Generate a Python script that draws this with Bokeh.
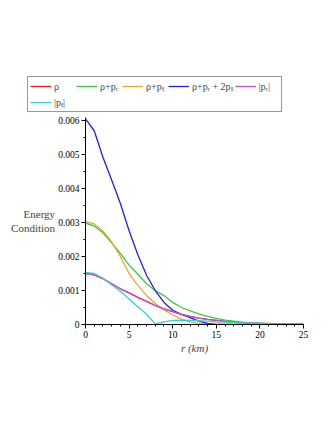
from bokeh.plotting import figure
from bokeh.layouts import column
from bokeh.models import Range1d, FixedTicker, NumeralTickFormatter, Legend, LegendItem
from bokeh.embed import file_html
from bokeh.resources import INLINE

r_km = list(range(0, 26))

rho = [0.00150, 0.00146, 0.00135, 0.00120, 0.00105, 0.00093, 0.00080, 0.00068, 0.00056, 0.00046,
       0.00038, 0.00030, 0.00024, 0.00019, 0.00015, 0.00012, 0.00009, 0.00007, 0.00005, 0.00004,
       0.00003, 0.00002, 0.00002, 0.00001, 0.00001, 0.00001]
rho_pr = [0.00298, 0.00290, 0.00270, 0.00240, 0.00209, 0.00175, 0.00148, 0.00120, 0.00100, 0.00085,
          0.00065, 0.00050, 0.00040, 0.00031, 0.00024, 0.00018, 0.00013, 0.00010, 0.00007, 0.00005,
          0.00004, 0.00003, 0.00002, 0.00002, 0.00001, 0.00001]
rho_pt = [0.00303, 0.00296, 0.00275, 0.00243, 0.00200, 0.00150, 0.00115, 0.00085, 0.00062, 0.00043,
          0.00028, 0.00016, 0.00008, 0.00003, 0.00001, 0.0, 0.0, 0.0, 0.0, 0.0,
          0.0, 0.0, 0.0, 0.0, 0.0, 0.0]
rho_pr_2pt = [0.00605, 0.00570, 0.00492, 0.00425, 0.00356, 0.00276, 0.00205, 0.00145, 0.00100, 0.00065,
              0.00042, 0.00030, 0.00020, 0.00010, 0.00003, 0.0, 0.0, 0.0, 0.0, 0.0,
              0.0, 0.0, 0.0, 0.0, 0.0, 0.0]
abs_pr = [0.00150, 0.00146, 0.00135, 0.00120, 0.00105, 0.00093, 0.00080, 0.00068, 0.00056, 0.00046,
          0.00038, 0.00030, 0.00024, 0.00019, 0.00015, 0.00012, 0.00009, 0.00007, 0.00005, 0.00004,
          0.00003, 0.00002, 0.00002, 0.00001, 0.00001, 0.00001]
abs_pt = [0.00153, 0.00150, 0.00136, 0.00117, 0.00098, 0.00075, 0.00052, 0.00030, 0.00002, 0.00008,
          0.00012, 0.00013, 0.00012, 0.00011, 0.00010, 0.00008, 0.00007, 0.00006, 0.00005, 0.00004,
          0.00003, 0.00002, 0.00001, 0.00001, 0.00001, 0.00001]

series_labels = ["ρ", "ρ+pᵣ", "ρ+pₜ", "ρ+pᵣ + 2pₜ", "|pᵣ|", "|pₜ|"]
series_colors = ["#E02020", "#40C840", "#E8A830", "#2020E8", "#C850C8", "#30D0D0"]
series_values = [rho, rho_pr, rho_pt, rho_pr_2pt, abs_pr, abs_pt]

x_ticks = [0, 5, 10, 15, 20, 25]
x_minor = list(range(0, 26))
y_ticks = [0.0, 0.001, 0.002, 0.003, 0.004, 0.005, 0.006]
y_minor = [0.0005 * i for i in range(0, 13)]

FONT = "Liberation Serif"
W = 320

# ---- main plot ----
p = figure(width=W, height=306, output_backend="svg", toolbar_location=None,
           x_range=Range1d(0, 25), y_range=Range1d(0, 0.00609),
           min_border_left=85, min_border_right=W - 303, min_border_top=1, min_border_bottom=98)
p.outline_line_color = None
p.xgrid.visible = False
p.ygrid.visible = False

for col, vals in zip(series_colors, series_values):
    p.line(r_km, vals, line_color=col, line_width=1.3)

for ax in (p.xaxis, p.yaxis):
    ax.axis_line_color = "black"
    ax.major_tick_line_color = "black"
    ax.minor_tick_line_color = "black"
    ax.major_tick_in = 0
    ax.major_tick_out = 4
    ax.minor_tick_in = 0
    ax.minor_tick_out = 2
    ax.major_label_text_font = FONT
    ax.major_label_text_font_size = "9.5px"
    ax.major_label_text_color = "black"
    ax.major_label_standoff = 2

p.xaxis.ticker = FixedTicker(ticks=x_ticks, minor_ticks=x_minor)
p.yaxis.ticker = FixedTicker(ticks=y_ticks, minor_ticks=y_minor)
p.yaxis.formatter = NumeralTickFormatter(format="0.[000]")

p.xaxis.axis_label = "r (km)"
p.xaxis.axis_label_text_font = FONT
p.xaxis.axis_label_text_font_style = "italic"
p.xaxis.axis_label_text_font_size = "11px"
p.xaxis.axis_label_standoff = 1

yax = p.yaxis[0]
yax.axis_label = "Energy\nCondition"
yax.axis_label_text_font = FONT
yax.axis_label_text_font_style = "normal"
yax.axis_label_text_font_size = "11px"
yax.axis_label_text_align = "left"
yax.axis_label_standoff = 0
if "axis_label_orientation" in yax.properties():
    yax.axis_label_orientation = "horizontal"

# ---- legend strip above ----
lf = figure(width=W, height=116, output_backend="svg", toolbar_location=None,
            x_range=Range1d(0, 1), y_range=Range1d(10, 11),
            x_axis_type=None, y_axis_type=None,
            min_border_left=0, min_border_right=0, min_border_top=0, min_border_bottom=0)
lf.outline_line_color = None
lf.xgrid.visible = False
lf.ygrid.visible = False
items = []
for lab, col, vals in zip(series_labels, series_colors, series_values):
    rend = lf.line(r_km, vals, line_color=col, line_width=1.3)
    items.append(LegendItem(label=lab, renderers=[rend]))

legend = Legend(items=items, orientation="horizontal", ncols=5, location=(27, 4),
                glyph_width=21, glyph_height=10, label_height=10, label_standoff=3,
                spacing=2, padding=2, margin=0,
                label_text_font=FONT, label_text_font_size="10px",
                border_line_color="#333333", border_line_width=1,
                background_fill_alpha=1.0)
lf.add_layout(legend, "center")

for fig in (p, lf):
    if "frame_align" in fig.properties():
        fig.frame_align = False

layout = column(lf, p, spacing=0)
open("out.html", "w").write(file_html(layout, INLINE))
